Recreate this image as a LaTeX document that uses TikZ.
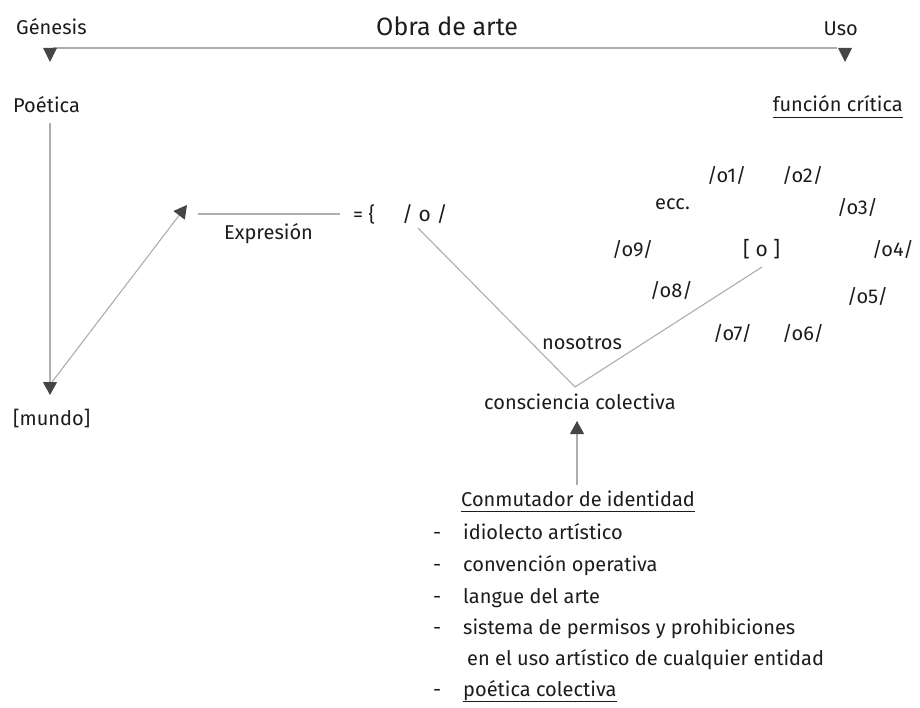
\documentclass[tikz,border=0pt]{standalone}
\usepackage{fontspec}
\setmainfont{Fira Sans}
\usetikzlibrary{arrows.meta}

\definecolor{ink}{HTML}{1C1C1C}
\definecolor{rulegray}{HTML}{ADADAD}
\definecolor{tipgray}{HTML}{454545}

\tikzset{
  lbl/.style={inner sep=0pt, anchor=base west, text=ink,
    font=\fontsize{20}{24}\selectfont},
  lblr/.style={lbl, anchor=base east},
  conn/.style={draw=rulegray, line width=1.1pt},
  tipto/.style={conn, -{Triangle[width=14pt,length=13pt,color=tipgray]}},
  uline/.style={draw=ink, line width=0.9pt}
}

\begin{document}
\begin{tikzpicture}[x=1pt, y=-1pt]
  \useasboundingbox (0,0) rectangle (920,708);

  % Obra de arte
  \node[lbl] (genesis) at (16,35) {Génesis};
  \node[lbl, font=\fontsize{25}{30}\selectfont] (obra) at (376,36) {Obra de arte};
  \node[lblr] (uso) at (858,36) {Uso};
  \coordinate (gmark) at (50,48);
  \coordinate (umark) at (845,48);
  \draw[conn] ([xshift=3pt]gmark) -- ([xshift=-8pt]umark);
  \fill[tipgray] (gmark) ++(-7,0) -- ++(14,0) -- ++(-7,14) -- cycle;
  \fill[tipgray] (umark) ++(-7,0) -- ++(14,0) -- ++(-7,14) -- cycle;

  % Poetica
  \node[lbl] (poetica) at (13,113) {Poética};
  \node[lbl] (mundo) at (13,425) {[mundo]};
  \coordinate (ptop) at (50,123);
  \coordinate (pbot) at (50,395);
  \draw[tipto] (ptop) -- (pbot);
  \coordinate (dstart) at (52,382);
  \coordinate (dtip) at (187,205);
  \draw[tipto] (dstart) -- (dtip);

  % Expresion
  \coordinate (exl) at (198,214);
  \coordinate (exr) at (340,214);
  \draw[conn] (exl) -- (exr);
  \node[lbl] (expresion) at (224,240) {Expresión};
  \node[lbl] (igual) at (353,222) {= \{};
  \node[lbl, font=\fontsize{21}{24}\selectfont] (obar) at (402,222) {/ o /};

  % nosotros
  \coordinate (vleft) at (418,228);
  \coordinate (vbot) at (575,387);
  \coordinate (vright) at (762,267);
  \draw[conn] (vleft) -- (vbot) -- (vright);
  \node[lbl] (nosotros) at (542,349) {nosotros};
  \node[lbl] (conciencia) at (484,409) {consciencia colectiva};

  % funcion critica
  \node[lblr] (funcion) at (903,112) {función crítica};
  \draw[uline] ([yshift=-5.5pt]funcion.base west) -- ([yshift=-5.5pt]funcion.base east);
  \node[lbl] (o1) at (707,183) {/o1/};
  \node[lbl] (o2) at (782,183) {/o2/};
  \node[lbl] (ecc) at (655,210) {ecc.};
  \node[lbl] (o3) at (837,215) {/o3/};
  \node[lbl] (o9) at (612,257) {/o9/};
  \node[lbl, font=\fontsize{21}{24}\selectfont] (o0) at (743,257) {[ o ]};
  \node[lblr] (o4) at (914,257) {/o4/};
  \node[lbl] (o8) at (650,298) {/o8/};
  \node[lbl] (o5) at (847,304) {/o5/};
  \node[lbl] (o7) at (713,340) {/o7/};
  \node[lbl] (o6) at (782,340) {/o6/};

  % Conmutador
  \coordinate (cbot) at (577,485);
  \coordinate (ctip) at (577,421);
  \draw[tipto] (cbot) -- (ctip);
  \node[lbl] (conmutador) at (461,506) {Conmutador de identidad};
  \draw[uline] ([yshift=-5pt]conmutador.base west) -- ([yshift=-5pt]conmutador.base east);
  \node[lbl] (d1) at (433,539) {-};
  \node[lbl] (i1) at (463,539) {idiolecto artístico};
  \node[lbl] (d2) at (433,571) {-};
  \node[lbl] (i2) at (463,571) {convención operativa};
  \node[lbl] (d3) at (433,603) {-};
  \node[lbl] (i3) at (463,603) {langue del arte};
  \node[lbl] (d4) at (433,634) {-};
  \node[lbl] (i4) at (463,634) {sistema de permisos y prohibiciones};
  \node[lbl] (i4b) at (467,665) {en el uso artístico de cualquier entidad};
  \node[lbl] (d5) at (433,696) {-};
  \node[lbl] (i5) at (463,696) {poética colectiva};
  \draw[uline] ([yshift=-5pt]i5.base west) -- ([yshift=-5pt]i5.base east);
\end{tikzpicture}
\end{document}
